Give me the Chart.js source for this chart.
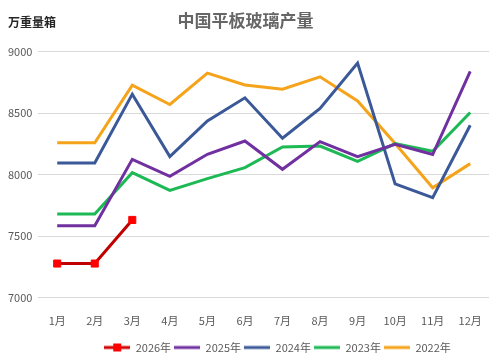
<!DOCTYPE html>
<html><head><meta charset="utf-8">
<script src="https://cdn.jsdelivr.net/npm/chart.js@4/dist/chart.umd.min.js"></script>
<style>
html,body{margin:0;padding:0;background:#fff;}
#wrap{position:relative;width:500px;height:359px;}
#unit{position:absolute;left:8px;top:13px;font:bold 12px "Noto Sans CJK SC",sans-serif;color:#262626;}
</style></head>
<body><div id="wrap"><canvas id="c" width="500" height="359"></canvas><div id="unit">万重量箱</div></div>
<script>
const months = ['1月','2月','3月','4月','5月','6月','7月','8月','9月','10月','11月','12月'];
const s2026 = [7278, 7278, 7632, null, null, null, null, null, null, null, null, null];
const s2025 = [7585, 7585, 8124, 7986, 8165, 8273, 8043, 8268, 8146, 8246, 8163, 8837];
const s2024 = [8095, 8095, 8653, 8146, 8436, 8623, 8295, 8537, 8905, 7925, 7813, 8401];
const s2023 = [7680, 7680, 8016, 7872, 7967, 8057, 8224, 8232, 8108, 8252, 8189, 8504];
const s2022 = [8258, 8258, 8726, 8569, 8824, 8728, 8693, 8794, 8598, 8252, 7894, 8089];
const yTicks = [7000, 7500, 8000, 8500, 9000];

function legendIcon(color, marker){
  const cv = document.createElement('canvas');
  cv.width = 26; cv.height = 10;
  const g = cv.getContext('2d');
  g.strokeStyle = marker ? '#d00000' : color; g.lineWidth = 3;
  g.beginPath(); g.moveTo(0,5); g.lineTo(26,5); g.stroke();
  if (marker){ g.fillStyle = '#ff0000'; g.fillRect(9,1,8,8); }
  return cv;
}

const series = [
  {label:'2026年', data:s2026, color:'#c00000', marker:true},
  {label:'2025年', data:s2025, color:'#7030a0'},
  {label:'2024年', data:s2024, color:'#3b5998'},
  {label:'2023年', data:s2023, color:'#1db954'},
  {label:'2022年', data:s2022, color:'#f5a31a'}
];

const datasets = series.map(s => ({
  label: s.label,
  data: s.data,
  borderColor: s.color,
  backgroundColor: s.marker ? '#ff0000' : s.color,
  borderWidth: 3,
  pointStyle: s.marker ? 'rect' : false,
  pointRadius: s.marker ? 5 : 0,
  pointBorderWidth: 1,
  pointBorderColor: '#ff0000',
  pointBackgroundColor: '#ff0000',
  tension: 0,
  spanGaps: false,
  legendIcon: legendIcon(s.color, s.marker)
}));

const shiftLegend = {
  id: 'shiftLegend',
  afterLayout(chart){
    if (chart.legend){
      chart.legend.top += 4; chart.legend.bottom += 4;
      chart.legend.left += 32; chart.legend.right += 32;
    }
  }
};

new Chart(document.getElementById('c'), {
  type: 'line',
  data: { labels: months, datasets: datasets },
  plugins: [shiftLegend],
  options: {
    responsive: false,
    animation: false,
    layout: { padding: { left: 2, right: 11, top: 0, bottom: 0 } },
    plugins: {
      title: {
        display: true,
        text: '中国平板玻璃产量',
        color: '#666666',
        font: { family: '"Noto Sans CJK SC", sans-serif', size: 17, weight: 'bold' },
        padding: { top: 10, bottom: 21 }
      },
      legend: {
        position: 'bottom',
        labels: {
          usePointStyle: true,
          pointStyleWidth: 26,
          padding: 3,
          color: '#595959',
          font: { family: '"Noto Sans CJK SC", sans-serif', size: 11 },
          generateLabels: (chart) => chart.data.datasets.map((d, i) => ({
            text: d.label,
            pointStyle: d.legendIcon,
            fillStyle: d.borderColor,
            strokeStyle: d.borderColor,
            lineWidth: 0,
            fontColor: '#595959',
            datasetIndex: i,
            hidden: false
          }))
        }
      },
      tooltip: { enabled: false }
    },
    scales: {
      x: {
        offset: true,
        grid: { display: false },
        border: { display: false },
        ticks: { color: '#595959', padding: 8, font: { family: '"Noto Sans CJK SC", sans-serif', size: 11 } }
      },
      y: {
        min: 7000, max: 9000,
        afterBuildTicks: (axis) => { axis.ticks = yTicks.map(v => ({ value: v })); },
        grid: { color: '#d9d9d9', drawTicks: false },
        border: { display: false },
        ticks: { color: '#595959', padding: 6, callback: (v) => String(v), font: { family: '"Noto Sans CJK SC", sans-serif', size: 11 } }
      }
    }
  }
});
</script></body></html>
